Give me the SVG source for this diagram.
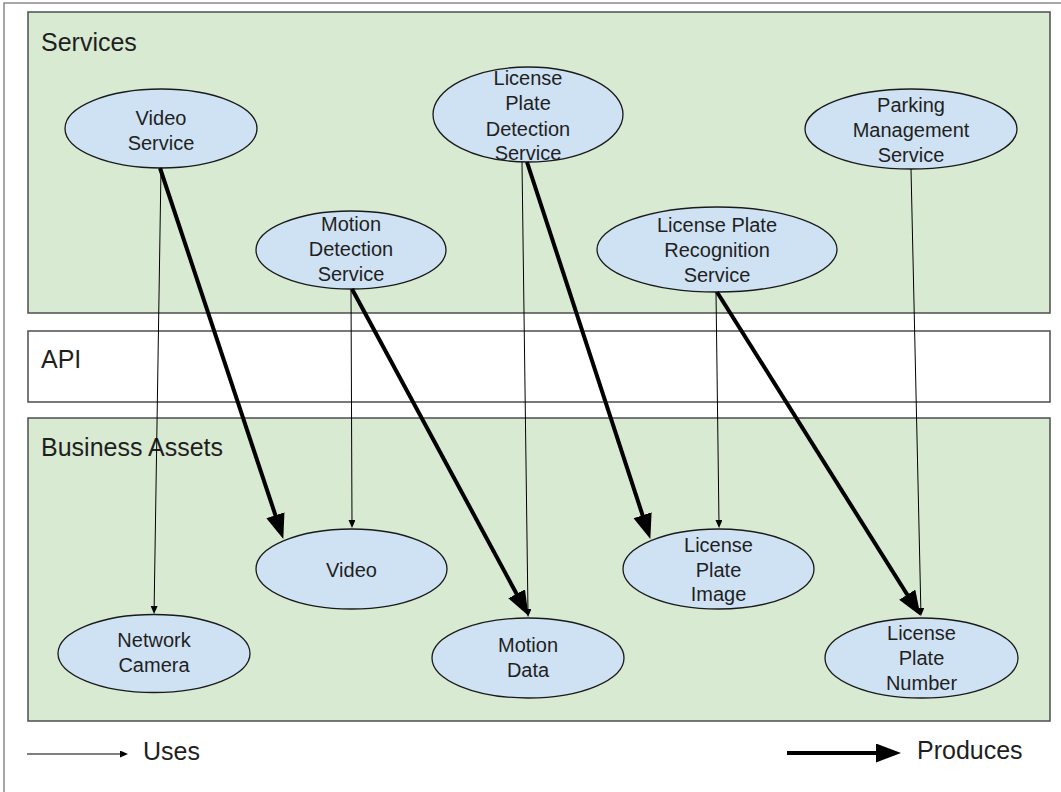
<svg xmlns="http://www.w3.org/2000/svg" width="1061" height="792" viewBox="0 0 1061 792">
  <style>
    .frame { fill: #ffffff; stroke: #8a8a8a; stroke-width: 1.5; }
    .panel { fill: #d9ead3; stroke: #4d4d4d; stroke-width: 1.5; }
    .panel-plain { fill: #ffffff; stroke: #4d4d4d; stroke-width: 1.5; }
    .title { font-family: "Liberation Sans", Arial, sans-serif; font-size: 25px; fill: #1f1f1f; }
    .node ellipse { fill: #cfe2f3; stroke: #1a1a1a; stroke-width: 1.3; }
    .node text { font-family: "Liberation Sans", Arial, sans-serif; font-size: 20px; fill: #1f1f1f; text-anchor: middle; }
    .uses { fill: none; stroke: #000; stroke-width: 1; marker-end: url(#head-thin); }
    .produces { fill: none; stroke: #000; stroke-width: 4; marker-end: url(#head-thick); }
  </style>
  <defs>
    <marker id="head-thin" markerUnits="userSpaceOnUse" markerWidth="10" markerHeight="8" refX="4" refY="3.5" orient="auto">
      <path d="M0,0 L8,3.5 L0,7 Z" fill="#000"/>
    </marker>
    <marker id="head-thick" markerUnits="userSpaceOnUse" markerWidth="26" markerHeight="20" refX="12" refY="9.5" orient="auto">
      <path d="M0,0 L25,9.5 L0,19 Z" fill="#000"/>
    </marker>
  </defs>

  <!-- outer frame -->
  <rect class="frame" x="4" y="3" width="1070" height="800"/>

  <!-- layers -->
  <g id="layer-services">
    <rect class="panel" x="28" y="12" width="1022" height="301"/>
    <text class="title" x="41" y="51">Services</text>
  </g>
  <g id="layer-api">
    <rect class="panel-plain" x="28" y="331" width="1022" height="71"/>
    <text class="title" x="41" y="368">API</text>
  </g>
  <g id="layer-assets">
    <rect class="panel" x="28" y="418" width="1022" height="303"/>
    <text class="title" x="41" y="456">Business Assets</text>
  </g>

  <!-- services -->
  <g id="video-service" class="node">
    <ellipse cx="161" cy="128.5" rx="96" ry="39.5"/>
    <text x="161" y="125">Video</text>
    <text x="161" y="150">Service</text>
  </g>
  <g id="motion-detection-service" class="node">
    <ellipse cx="351" cy="250" rx="95" ry="39"/>
    <text x="351" y="231">Motion</text>
    <text x="351" y="256">Detection</text>
    <text x="351" y="281">Service</text>
  </g>
  <g id="license-plate-detection-service" class="node">
    <ellipse cx="528" cy="114.5" rx="95" ry="47.5"/>
    <text x="528" y="85">License</text>
    <text x="528" y="110">Plate</text>
    <text x="528" y="136">Detection</text>
    <text x="528" y="160">Service</text>
  </g>
  <g id="license-plate-recognition-service" class="node">
    <ellipse cx="717" cy="249.5" rx="120" ry="42.5"/>
    <text x="717" y="232">License Plate</text>
    <text x="717" y="257">Recognition</text>
    <text x="717" y="282">Service</text>
  </g>
  <g id="parking-management-service" class="node">
    <ellipse cx="911" cy="129" rx="106" ry="40"/>
    <text x="911" y="112">Parking</text>
    <text x="911" y="137">Management</text>
    <text x="911" y="162">Service</text>
  </g>

  <!-- business assets -->
  <g id="video" class="node">
    <ellipse cx="351.5" cy="569" rx="95.5" ry="40"/>
    <text x="351.5" y="577">Video</text>
  </g>
  <g id="network-camera" class="node">
    <ellipse cx="154" cy="653.5" rx="96" ry="39"/>
    <text x="154" y="647">Network</text>
    <text x="154" y="672">Camera</text>
  </g>
  <g id="motion-data" class="node">
    <ellipse cx="528" cy="658" rx="96" ry="40"/>
    <text x="528" y="652">Motion</text>
    <text x="528" y="677">Data</text>
  </g>
  <g id="license-plate-image" class="node">
    <ellipse cx="718.5" cy="569" rx="95.5" ry="40"/>
    <text x="718.5" y="552">License</text>
    <text x="718.5" y="577">Plate</text>
    <text x="718.5" y="601">Image</text>
  </g>
  <g id="license-plate-number" class="node">
    <ellipse cx="921.5" cy="658" rx="96.5" ry="40"/>
    <text x="921.5" y="640">License</text>
    <text x="921.5" y="665">Plate</text>
    <text x="921.5" y="690">Number</text>
  </g>

  <!-- connectors: thin = uses, thick = produces -->
  <g id="connectors">
    <path class="uses" d="M161,168 L154.1,610"/>
    <path class="uses" d="M351,289 L352,524"/>
    <path class="uses" d="M522,162 L528,613"/>
    <path class="uses" d="M716,292 L719,524"/>
    <path class="uses" d="M911,169 L920.9,612"/>

    <path class="produces" d="M160,168 L279.2,526.6"/>
    <path class="produces" d="M352,289 L522.3,604.4"/>
    <path class="produces" d="M527,162 L646.3,526.6"/>
    <path class="produces" d="M717,292 L913.6,604.8"/>
  </g>

  <!-- legend -->
  <g id="legend">
    <path class="uses" d="M27,754 L124,754"/>
    <text class="title" x="143" y="760">Uses</text>
    <path class="produces" d="M787,753 L888,753"/>
    <text class="title" x="917" y="759">Produces</text>
  </g>
</svg>
